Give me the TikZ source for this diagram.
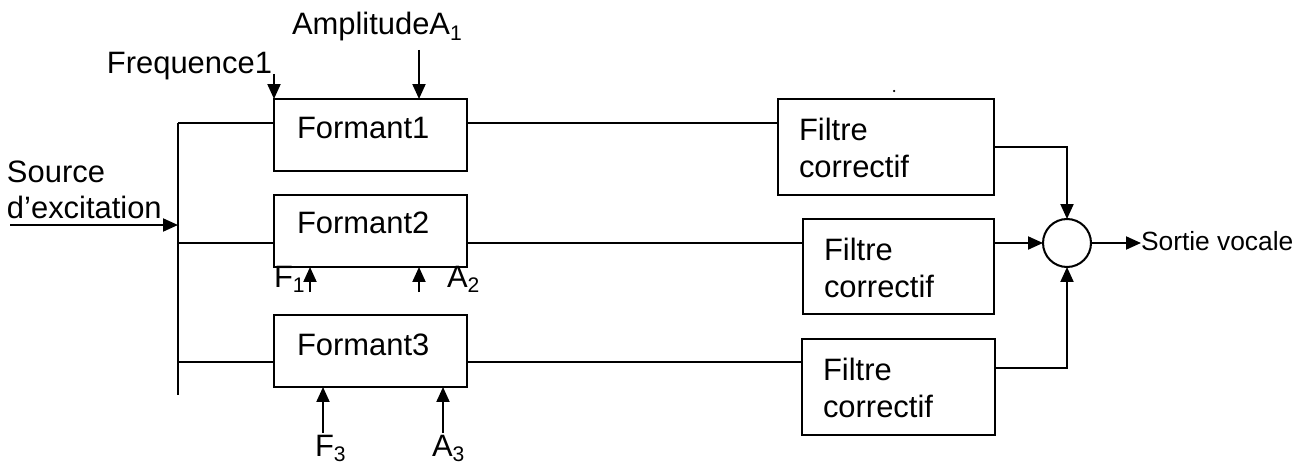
\documentclass[tikz,border=0pt]{standalone}
\usepackage{fontspec}
\setmainfont{Liberation Sans}
\usetikzlibrary{arrows.meta,calc}
\newcommand\lowidx[1]{\raisebox{-0.35ex}{\fontsize{12}{12}\selectfont #1}}

\begin{document}
\begin{tikzpicture}[x=0.02cm,y=-0.02cm,line width=1.15pt,
  every node/.style={inner sep=0pt,outer sep=0pt,font=\fontsize{17.6}{21}\selectfont},
  formant/.style={draw,line width=1.15pt,minimum width=3.86cm,minimum height=1.44cm},
  filtre/.style={draw,line width=1.15pt,minimum height=1.92cm},
  txt/.style={anchor=base west},
  arr/.style={-{Triangle[length=0.3cm,width=0.26cm]}}]
\useasboundingbox (0,0) rectangle (1300,466);

% formant blocks
\node[formant] (f1) at (370.5,135) {};
\node[formant] (f2) at (370.5,231) {};
\node[formant] (f3) at (370.5,351) {};
\node[txt] (t1) at ($(f1.north west)+(23,39)$) {Formant1};
\node[txt] (t2) at ($(f2.north west)+(23,38)$) {Formant2};
\node[txt] (t3) at ($(f3.north west)+(23,40)$) {Formant3};

% correcting filters
\node[filtre,minimum width=4.32cm] (c1) at (886,147) {};
\node[filtre,minimum width=3.82cm,minimum height=1.9cm] (c2) at (898.5,266.5) {};
\node[filtre,minimum width=3.86cm] (c3) at (898.5,387) {};
\foreach \c in {c1,c2,c3}{
  \node[txt] (\c a) at ($(\c.north west)+(21,41)$) {Filtre};
  \node[txt] (\c b) at ($(\c.north west)+(21,78)$) {correctif};
}

% summing junction
\node[draw,circle,minimum size=0.96cm] (sum) at (1067,243) {};
\node[txt,font=\fontsize{15}{18}\selectfont] (sv) at (1141,250) {Sortie vocale};

% excitation source and distribution bus
\node[txt] (src1) at (7,182) {Source};
\node[txt] (src2) at (7,218) {d’excitation};
\coordinate (bustop) at (178,123);
\coordinate (busbot) at (178,395);
\coordinate (j2) at (178,243);
\coordinate (j3) at (178,362);
\coordinate (srcin) at (10,225);
\draw (bustop) -- (busbot);
\draw[arr] (srcin) -- (srcin -| bustop);

% bus -> formants -> filters
\draw (bustop) -- (f1.west |- bustop);
\draw (f1.east |- bustop) -- (c1.west |- bustop);
\draw (j2) -- (f2.west |- j2);
\draw (f2.east |- j2) -- (c2.west |- j2);
\draw (j3) -- (f3.west |- j3);
\draw (f3.east |- j3) -- (c3.west |- j3);

% filters -> sum -> output
\coordinate (o3) at (995,368);
\draw[arr] (c1.east) -| (sum.north);
\draw[arr] (c2.east |- sum.west) -- (sum.west);
\draw[arr] (c3.east |- o3) -| (sum.south);
\draw[arr] (sum.east) -- (sv.west |- sum.east);

% control inputs of formant 1
\node[anchor=base east] (fq1) at (272,73) {Frequence1};
\node[txt] (am1) at (292,35) {AmplitudeA\lowidx{1}};
\coordinate (fq1s) at (274,74);
\coordinate (am1s) at (419,50);
\draw[arr] (fq1s) -- (fq1s |- f1.north);
\draw[arr] (am1s) -- (am1s |- f1.north);

% control inputs of formant 2
\node[txt] (fl2) at (274,287) {F\lowidx{1}};
\node[txt] (al2) at (447,287) {A\lowidx{2}};
\coordinate (fa2) at (310,292);
\coordinate (aa2) at (419,292);
\draw[arr] (fa2) -- (fa2 |- f2.south);
\draw[arr] (aa2) -- (aa2 |- f2.south);

% control inputs of formant 3
\node[txt] (fl3) at (315,456) {F\lowidx{3}};
\node[txt] (al3) at (432,456) {A\lowidx{3}};
\coordinate (fa3) at (323,433);
\coordinate (aa3) at (443,433);
\draw[arr] (fa3) -- (fa3 |- f3.south);
\draw[arr] (aa3) -- (aa3 |- f3.south);

% stray dot above the first filter
\fill (894,91) circle[radius=0.025cm];
\end{tikzpicture}
\end{document}
